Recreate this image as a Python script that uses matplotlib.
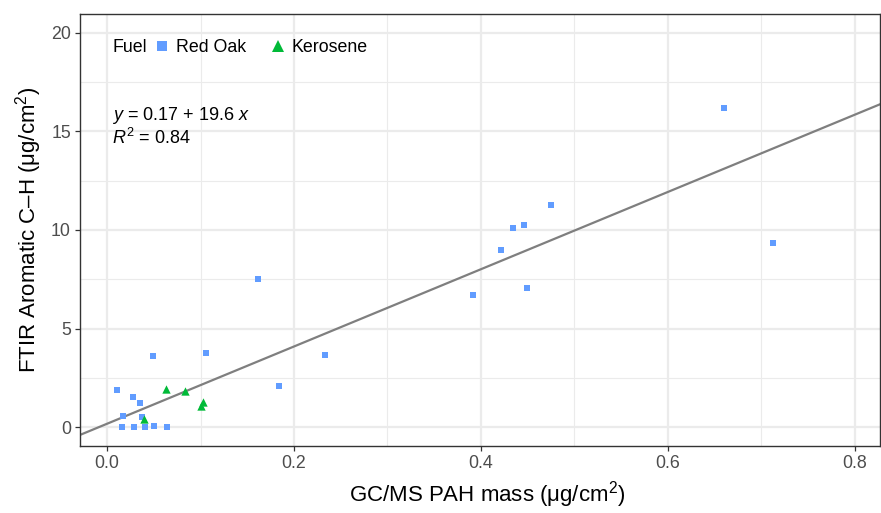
import matplotlib
matplotlib.use("Agg")
import matplotlib.pyplot as plt
from matplotlib.lines import Line2D
import numpy as np

plt.rcParams['font.family'] = ['Liberation Sans', 'DejaVu Sans']
plt.rcParams['mathtext.fontset'] = 'custom'
plt.rcParams['mathtext.rm'] = 'Liberation Sans'
plt.rcParams['mathtext.it'] = 'Liberation Sans:italic'

# Data
oak_x = [0.049, 0.1055, 0.0103, 0.0275, 0.0353, 0.0168, 0.0374, 0.0157, 0.029, 0.041,
         0.050, 0.064, 0.184, 0.233, 0.1615, 0.475, 0.434, 0.446, 0.421, 0.391, 0.449,
         0.660, 0.713]
oak_y = [3.62, 3.77, 1.89, 1.54, 1.23, 0.56, 0.51, 0.02, 0.02, 0.02,
         0.05, 0.02, 2.08, 3.66, 7.51, 11.27, 10.12, 10.27, 9.0, 6.72, 7.07,
         16.21, 9.36]
ker_x = [0.063, 0.083, 0.103, 0.101, 0.040]
ker_y = [1.93, 1.84, 1.28, 1.08, 0.41]
intercept = 0.17
slope = 19.6
r2 = 0.84

xlim = (-0.029, 0.827)
ylim = (-0.96, 20.96)

fig = plt.figure(figsize=(8.81, 5.13), dpi=100)
ax = fig.add_axes([80/881, 1-446/513, 800/881, 432/513])
ax.set_xlim(*xlim)
ax.set_ylim(*ylim)

grid_c = '#EBEBEB'
for v in [0.1, 0.3, 0.5, 0.7]:
    ax.axvline(v, color=grid_c, lw=0.8, zorder=0)
for v in [2.5, 7.5, 12.5, 17.5]:
    ax.axhline(v, color=grid_c, lw=0.8, zorder=0)
ax.set_xticks([0, 0.2, 0.4, 0.6, 0.8])
ax.set_xticklabels(['0.0', '0.2', '0.4', '0.6', '0.8'])
ax.set_yticks([0, 5, 10, 15, 20])
ax.grid(True, color=grid_c, lw=1.6, zorder=0)
ax.set_axisbelow(True)

xs = np.array(xlim)
ax.plot(xs, intercept + slope * xs, color='#7F7F7F', lw=1.6, zorder=2)

ax.scatter(oak_x, oak_y, marker='s', s=22, color='#619CFF', linewidths=0, zorder=3)
ax.scatter(ker_x, ker_y, marker='^', s=36, color='#00BA38', linewidths=0, zorder=3)

for s in ax.spines.values():
    s.set_color('#333333')
    s.set_linewidth(1.0)
ax.tick_params(colors='#333333', labelcolor='#4D4D4D', labelsize=12.8, length=3.5, width=0.9, pad=3)

ax.set_xlabel('GC/MS PAH mass (μg/cm$^2$)', fontsize=16, labelpad=3)
ax.xaxis.set_label_coords((487-80)/800, -0.077)
ax.set_ylabel('FTIR Aromatic C–H (μg/cm$^2$)', fontsize=16, labelpad=5)

ax.text(0.0055, 15.79, r'$y$ = %.2f + %.1f $x$' % (intercept, slope), fontsize=13, va='center', ha='left')
ax.text(0.0055, 14.65, r'$R^2$ = %.2f' % r2, fontsize=13, va='center', ha='left')

# legend
ax.text(0.0055, 19.25, 'Fuel', fontsize=12.8, va='center', ha='left')
handles = [Line2D([], [], marker='s', ls='', color='#619CFF', markersize=6.5, markeredgewidth=0),
           Line2D([], [], marker='^', ls='', color='#00BA38', markersize=8.5, markeredgewidth=0)]
ax.legend(handles, ['Red Oak', 'Kerosene'], ncol=2, frameon=False, fontsize=12.8,
          loc='center left', bbox_to_anchor=((155-80)/800, 1-(48-14)/432),
          handlelength=0.8, handletextpad=0.4, columnspacing=1.35, borderpad=0, borderaxespad=0)

fig.savefig('out.png', dpi=100)
